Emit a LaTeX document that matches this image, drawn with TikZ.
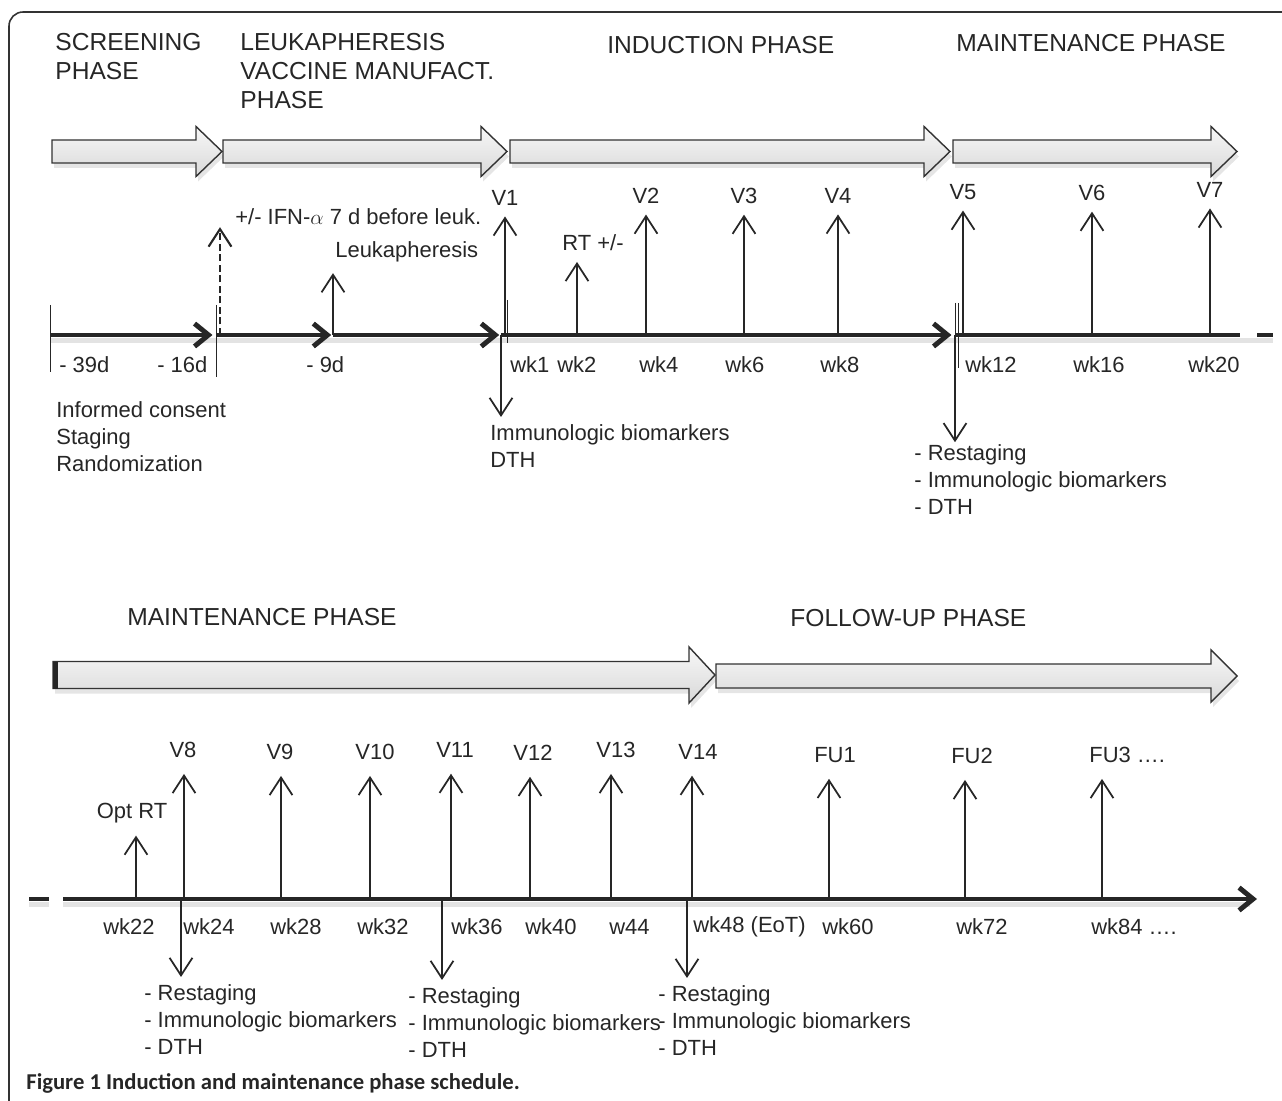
\documentclass[tikz,border=0pt]{standalone}
\usepackage{fontspec}
\setmainfont{Liberation Sans}
\newfontfamily\capfont{Carlito}
\usetikzlibrary{arrows.meta}
\tikzset{font=\fontsize{12.5}{15.3}\selectfont}
\tikzset{every node/.append style={text=black!85}}
\tikzset{
  phasetitle/.style={anchor=north west, inner sep=0pt, align=left, font=\fontsize{14}{16.4}\selectfont},
  infotext/.style={anchor=north west, inner sep=0pt, align=left},
  ticklbl/.style={anchor=west, inner sep=0pt},
  vlbl/.style={inner sep=1pt},
  timeaxis/.style={line width=2.8pt, draw=black!85},
  axisshadow/.style={line width=3pt, draw=gray!22},
  chevron/.style={-{Straight Barb[length=8pt,width=13pt]}},
  visit/.style={line width=1pt, draw=black!85, -{Straight Barb[length=10pt,width=13pt]}},
  phasebox/.style={draw=black!80, line width=0.8pt, top color=gray!6, bottom color=gray!30},
}
% block arrow: start x, tip x, centre y, half shaft, half head
\newcommand{\phasearrow}[5]{%
  \fill[gray!20, shift={(2,5)}] (#1,#3-#4) -- (#2-26,#3-#4) -- (#2-26,#3-#5) -- (#2,#3)
     -- (#2-26,#3+#5) -- (#2-26,#3+#4) -- (#1,#3+#4) -- cycle;
  \draw[phasebox] (#1,#3-#4) -- (#2-26,#3-#4) -- (#2-26,#3-#5) -- (#2,#3)
     -- (#2-26,#3+#5) -- (#2-26,#3+#4) -- (#1,#3+#4) -- cycle;}

\begin{document}
\begin{tikzpicture}[x=0.02cm,y=-0.02cm]
  \useasboundingbox (0,0) rectangle (1282,1101);
  \draw[black!80, line width=0.9pt, rounded corners=8pt] (9,1101) -- (9,12) -- (1282,12);

  % phases, first row
  \node[phasetitle] (scr) at (55,33) {SCREENING\\PHASE};
  \node[phasetitle] (leu) at (240,33) {LEUKAPHERESIS\\VACCINE MANUFACT.\\PHASE};
  \node[phasetitle] (ind) at (607,36) {INDUCTION PHASE};
  \node[phasetitle] (mai) at (956,34) {MAINTENANCE PHASE};
  \phasearrow{52}{222}{151.5}{11.5}{25}
  \phasearrow{223}{507}{151.5}{11.5}{25}
  \phasearrow{510}{950}{151.5}{11.5}{25}
  \phasearrow{953}{1237}{151.5}{11.5}{25}

  % first time line
  \coordinate (d39) at (50,335);
  \coordinate (d16) at (216,335);
  \coordinate (ifn) at (220,335);
  \coordinate (d9) at (333,335);
  \coordinate (wk1) at (501,335);
  \coordinate (wk12) at (955,335);
  \coordinate (end1) at (1240,335);
  \coordinate (dash1a) at (1257,335);
  \coordinate (dash1b) at (1273,335);
  \draw[axisshadow] ([yshift=-3pt]d39) -- ([yshift=-3pt]dash1b);
  \draw[timeaxis, chevron, shorten >=2pt] (d39) -- (d16);
  \draw[timeaxis, chevron, shorten >=1pt] (d16) -- (d9);
  \draw[timeaxis, chevron, shorten >=1pt] (d9) -- (wk1);
  \draw[timeaxis, chevron, shorten >=2pt] (wk1) -- (wk12);
  \draw[timeaxis] (wk12) -- (end1);
  \draw[timeaxis] (dash1a) -- (dash1b);
  \draw[thin, black!85] (d39) ++(0,-30) -- ++(0,67);
  \draw[thin, black!85] (d16) ++(0,-30) -- ++(0,72);
  \draw[thin, black!85] (wk1) ++(6,-35) -- ++(0,43);
  \draw[thin, black!85] (wk12) ++(0,-32) -- ++(0,65);
  \draw[thin, black!85] (wk12) ++(3,-32) -- ++(0,65);

  \foreach \x/\ly/\txt/\n in {505/198/V1/v1, 646/196/V2/v2, 744/196/V3/v3, 838/196/V4/v4,
                              963/192/V5/v5, 1092/193/V6/v6, 1210/190/V7/v7}{
    \coordinate (a\n) at (\x,335);
    \node[vlbl] (\n) at (\x,\ly) {\txt};
    \draw[visit, shorten >=5pt] (a\n) -- (a\n |- \n.south);
  }
  \coordinate (art) at (577,335);
  \node[vlbl] (rt) at (593,243) {RT +/-};
  \draw[visit, shorten >=5pt] (art) -- (art |- rt.south);
  \node[ticklbl] (leuk) at (335,252) {Leukapheresis};
  \draw[visit, shorten >=6pt] (d9) -- (d9 |- leuk.south);
  \node[ticklbl] (ifnlbl) at (235,217) {+/- IFN-$\alpha$ 7 d before leuk.};
  \draw[visit, line width=1.2pt, dash pattern=on 4pt off 2pt, shorten >=1pt] (ifn) -- (ifn |- ifnlbl.south);

  \foreach \x/\txt [count=\i] in {59/- 39d, 157/- 16d, 306/- 9d, 510/wk1, 557/wk2, 639/wk4,
                                  725/wk6, 820/wk8, 965/wk12, 1073/wk16, 1188/wk20}
    \node[ticklbl] (ta\i) at (\x,365) {\txt};

  \node[infotext] (scrinfo) at (56,401) {Informed consent\\Staging\\Randomization};
  \node[infotext] (ind1) at (490,424) {Immunologic biomarkers\\DTH};
  \draw[visit, shorten >=4pt] (wk1) -- (wk1 |- ind1.north);
  \node[infotext] (re12) at (914,444) {- Restaging\\- Immunologic biomarkers\\- DTH};
  \draw[visit, shorten >=1pt] (wk12) -- (wk12 |- re12.north);

  % phases, second row
  \node[phasetitle] (mai2) at (127,608) {MAINTENANCE PHASE};
  \node[phasetitle] (fol) at (790,609) {FOLLOW-UP PHASE};
  \phasearrow{53}{715}{675}{13.5}{28}
  \fill[black!85] (53,661.5) rectangle (58,688.5);
  \phasearrow{716}{1237}{676}{12}{26}

  % second time line
  \coordinate (dash2a) at (29,899);
  \coordinate (dash2b) at (49,899);
  \coordinate (start2) at (63,899);
  \coordinate (end2) at (1257,899);
  \draw[axisshadow] ([yshift=-3pt]dash2a) -- ([yshift=-3pt]dash2b);
  \draw[axisshadow] ([yshift=-3pt]start2) -- ([yshift=-3pt,xshift=-4pt]end2);
  \draw[timeaxis] (dash2a) -- (dash2b);
  \draw[timeaxis, -{Straight Barb[length=8pt,width=13pt]}] (start2) -- (end2);

  \foreach \x/\lx/\ly/\txt/\n in {184/183/750/V8/v8, 281/280/752/V9/v9, 370/375/752/V10/v10,
                                  451/455/750/V11/v11, 530/533/753/V12/v12, 611/616/750/V13/v13,
                                  692/698/752/V14/v14, 829/835/755/FU1/fu1, 965/972/756/FU2/fu2}{
    \coordinate (a\n) at (\x,899);
    \node[vlbl] (\n) at (\lx,\ly) {\txt};
    \draw[visit, shorten >=8pt] (a\n) -- (a\n |- \n.south);
  }
  \coordinate (afu3) at (1102,899);
  \node[ticklbl] (fu3) at (1089,755) {FU3 ….};
  \draw[visit, shorten >=9pt] (afu3) -- (afu3 |- fu3.south);
  \coordinate (aort) at (136,899);
  \node[vlbl] (ort) at (132,813) {Opt RT};
  \draw[visit, shorten >=6pt] (aort) -- (aort |- ort.south);

  \foreach \x/\txt [count=\i] in {103/wk22, 183/wk24, 270/wk28, 357/wk32, 451/wk36, 525/wk40,
                                  609/w44, 693/wk48 (EoT), 822/wk60, 956/wk72, 1091/wk84 ….}
    \node[ticklbl] (tb\i) at (\x,927) {\txt};

  \coordinate (wk24) at (181,899);
  \coordinate (wk36) at (442,899);
  \coordinate (wk48) at (687,899);
  \node[infotext] (re24) at (144,984) {- Restaging\\- Immunologic biomarkers\\- DTH};
  \node[infotext] (re36) at (408,987) {- Restaging\\- Immunologic biomarkers\\- DTH};
  \node[infotext] (re48) at (658,985) {- Restaging\\- Immunologic biomarkers\\- DTH};
  \draw[visit, shorten >=4pt] (wk24) -- (wk24 |- re24.north);
  \draw[visit, shorten >=4pt] (wk36) -- (wk36 |- re36.north);
  \draw[visit, shorten >=4pt] (wk48) -- (wk48 |- re48.north);

  \node[anchor=west, inner sep=0pt, font=\capfont\bfseries\fontsize{12.9}{15}\selectfont] (caption)
    at (26,1083) {Figure 1 Induction and maintenance phase schedule.};
\end{tikzpicture}
\end{document}
